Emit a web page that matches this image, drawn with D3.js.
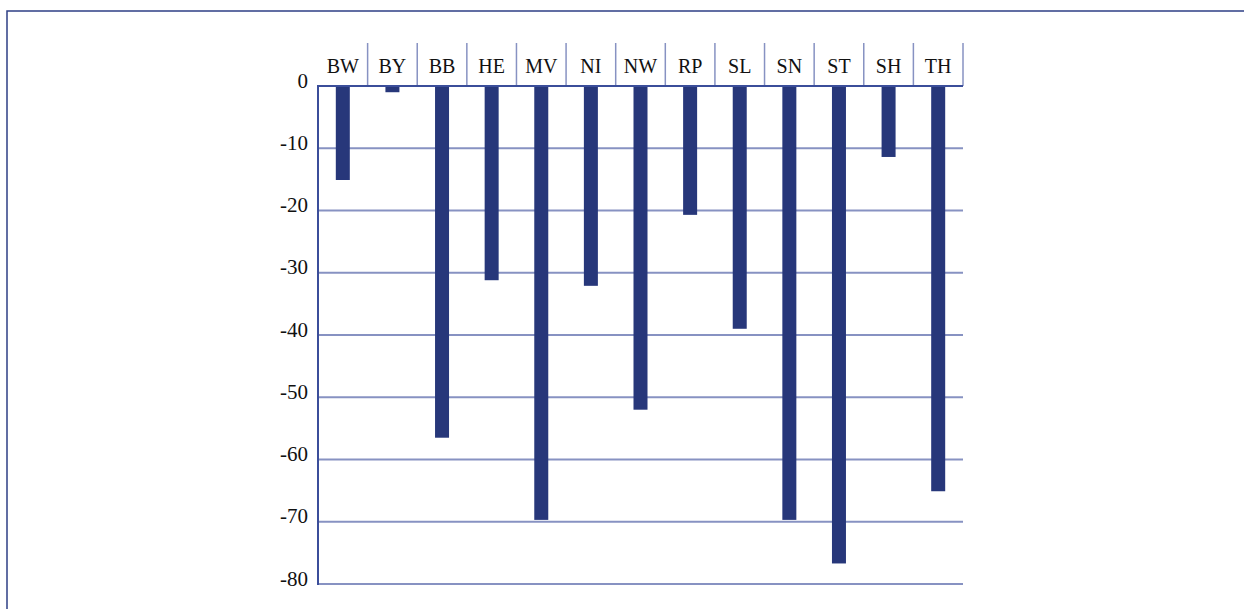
<!DOCTYPE html>
<html>
<head>
<meta charset="utf-8">
<script src="https://cdn.jsdelivr.net/npm/d3@7"></script>
<style>
  html, body { margin: 0; padding: 0; background: #fff; }
  svg { display: block; }
  text { font-family: "Liberation Serif", "DejaVu Serif", serif; fill: #111; }
</style>
</head>
<body>
<svg id="chart" width="1244" height="609"></svg>
<script>
const categories = ["BW", "BY", "BB", "HE", "MV", "NI", "NW", "RP", "SL", "SN", "ST", "SH", "TH"];
const values = [-15.1, -1.0, -56.5, -31.2, -69.7, -32.1, -52.0, -20.7, -39.0, -69.7, -76.7, -11.4, -65.1];
const yTicks = [0, -10, -20, -30, -40, -50, -60, -70, -80];

(function () {
const svg = d3.select("#chart");
const plotLeft = 318, plotRight = 963, plotTop = 86, plotBottom = 584;

// outer frame
svg.append("rect")
  .attr("x", 7).attr("y", 11)
  .attr("width", 1400).attr("height", 800)
  .attr("fill", "none").attr("stroke", "#2e3f85").attr("stroke-width", 1.5);

const x = d3.scaleBand().domain(categories).range([plotLeft, plotRight]).padding(0);
const y = d3.scaleLinear().domain([-80, 0]).range([plotBottom, plotTop]);

// gridlines
svg.append("g").selectAll("line")
  .data(yTicks.filter(d => d !== 0))
  .join("line")
  .attr("x1", plotLeft).attr("x2", plotRight)
  .attr("y1", d => y(d)).attr("y2", d => y(d))
  .attr("stroke", "#8792c2").attr("stroke-width", 2);

// header separators
svg.append("g").selectAll("line")
  .data(categories)
  .join("line")
  .attr("x1", d => x(d) + x.bandwidth()).attr("x2", d => x(d) + x.bandwidth())
  .attr("y1", 43).attr("y2", y(0))
  .attr("stroke", "#8792c2").attr("stroke-width", 1.5);

// header labels
svg.append("g").selectAll("text")
  .data(categories)
  .join("text")
  .attr("x", d => x(d) + x.bandwidth() / 2)
  .attr("y", 73)
  .attr("text-anchor", "middle")
  .attr("font-size", 20)
  .text(d => d);

// bars
const barW = 14;
svg.append("g").selectAll("rect")
  .data(categories.map((c, i) => ({ c, v: values[i] })))
  .join("rect")
  .attr("x", d => x(d.c) + x.bandwidth() / 2 - barW / 2)
  .attr("y", y(0))
  .attr("width", barW)
  .attr("height", d => y(d.v) - y(0))
  .attr("fill", "#27377a");

// zero line and left axis
svg.append("line")
  .attr("x1", plotLeft).attr("x2", plotRight)
  .attr("y1", y(0)).attr("y2", y(0))
  .attr("stroke", "#3b4e9a").attr("stroke-width", 2);
svg.append("line")
  .attr("x1", plotLeft).attr("x2", plotLeft)
  .attr("y1", y(0) - 1).attr("y2", y(-80) + 1)
  .attr("stroke", "#3b4e9a").attr("stroke-width", 2);

// y tick labels
svg.append("g").selectAll("text")
  .data(yTicks)
  .join("text")
  .attr("x", 308)
  .attr("y", d => y(d) + 1.5)
  .attr("text-anchor", "end")
  .attr("font-size", 21)
  .text(d => d);
})();
</script>
</body>
</html>
